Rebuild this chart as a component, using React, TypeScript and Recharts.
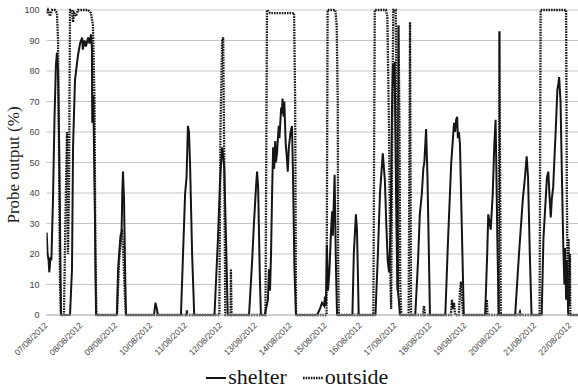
import React from 'react';
import { LineChart, Line, XAxis, YAxis, CartesianGrid, Legend } from 'recharts';

// Day ticks along the x axis (day 0 = 07/08/2012 00:00)
const dateLabels = [
  '07/08/2012', '08/08/2012', '09/08/2012', '10/08/2012', '11/08/2012', '12/08/2012',
  '13/08/2012', '14/08/2012', '15/08/2012', '16/08/2012', '17/08/2012', '18/08/2012',
  '19/08/2012', '20/08/2012', '21/08/2012', '22/08/2012',
];
const dayTicks = dateLabels.map((_, i) => i);
const pctTicks = [0, 10, 20, 30, 40, 50, 60, 70, 80, 90, 100];

// Probe inside the shelter: time (days) and output (%)
const shelterDays = [
  0.006, 0.03, 0.06, 0.08, 0.115, 0.14, 0.186, 0.23, 0.27, 0.3, 0.33, 0.36, 0.387, 0.415,
  0.673, 0.73, 0.76, 0.816, 0.9, 0.96, 1.02, 1.04, 1.09, 1.13, 1.19, 1.23, 1.274, 1.3, 1.31, 1.34, 1.39, 1.418,
  2.015, 2.05, 2.08, 2.12, 2.15, 2.17, 2.19, 2.22, 2.25, 2.276,
  3.078, 3.12, 3.16, 3.19,
  3.85, 3.91, 3.97, 4.01, 4.05, 4.08, 4.11, 4.17, 4.23,
  4.81, 4.91, 4.97, 5.0, 5.03, 5.06, 5.09, 5.13, 5.19,
  5.8, 5.89, 5.94, 6.0, 6.03, 6.06, 6.08, 6.11, 6.14,
  6.25, 6.34, 6.37, 6.4, 6.43, 6.46, 6.49, 6.52, 6.55, 6.57, 6.6, 6.65, 6.67, 6.72, 6.74, 6.76, 6.79, 6.81,
  6.85, 6.88, 6.91, 6.94, 6.99, 7.03, 7.06, 7.1, 7.145,
  7.75, 7.83, 7.89, 7.95, 7.975, 8.0, 8.03, 8.06, 8.1, 8.15, 8.18, 8.2, 8.25, 8.27, 8.29, 8.32,
  8.76, 8.8, 8.86, 8.89, 8.92, 8.94,
  9.42, 9.49, 9.55, 9.63, 9.69, 9.73, 9.77, 9.81, 9.86, 9.89, 9.92, 9.95, 9.97, 9.99, 10.02, 10.05, 10.09, 10.12,
  10.56, 10.64, 10.69, 10.75, 10.79, 10.82, 10.87, 10.91, 10.95, 10.98,
  11.42, 11.5, 11.59, 11.64, 11.67, 11.7, 11.73, 11.76, 11.78, 11.81, 11.84, 11.9, 11.95,
  12.56, 12.62, 12.65, 12.69, 12.72, 12.78, 12.82, 12.86, 12.88, 12.91, 12.95,
  13.42, 13.53, 13.64, 13.7, 13.75, 13.79, 13.84, 13.89,
  14.18, 14.23, 14.28, 14.33, 14.37, 14.4, 14.44, 14.47, 14.51, 14.54, 14.58, 14.63, 14.66, 14.68,
  14.72, 14.76, 14.8, 14.83, 14.85, 14.88, 14.9, 14.94, 15.22,
];
const shelterPct = [
  27, 20, 18, 14, 19, 18, 38, 65, 82, 86, 80, 58, 30, 0,
  0, 15, 55, 77, 85, 89, 91, 87, 90, 88, 91, 89, 92, 88, 63, 72, 30, 0,
  0, 15, 20, 26, 27, 40, 47, 38, 15, 0,
  0, 4, 2, 0,
  0, 20, 40, 45, 62, 60, 50, 20, 0,
  0, 25, 44, 50, 55, 52, 48, 30, 0,
  0, 18, 30, 42, 47, 42, 30, 12, 0,
  0, 5, 15, 8, 20, 40, 55, 48, 57, 50, 53, 62, 58, 68, 66, 71, 65, 70,
  56, 52, 47, 55, 60, 62, 45, 15, 0,
  0, 2, 4, 3, 6, 3, 23, 8, 14, 28, 34, 26, 46, 30, 15, 0,
  0, 20, 33, 28, 12, 0,
  0, 20, 40, 53, 44, 30, 18, 14, 30, 65, 82, 75, 83, 60, 30, 9, 5, 0,
  0, 18, 33, 40, 48, 50, 61, 45, 20, 0,
  0, 25, 50, 58, 63, 60, 64, 65, 58, 60, 56, 25, 0,
  0, 20, 33, 30, 28, 40, 55, 64, 50, 25, 0,
  0, 20, 38, 45, 52, 45, 20, 0,
  0, 25, 35, 45, 47, 40, 32, 38, 42, 50, 60, 74, 76, 78,
  70, 45, 22, 10, 22, 5, 18, 0, 0,
];

// Probe outside: time (days) and output (%)
const outsideDays = [
  0, 0.04, 0.1, 0.16, 0.24, 0.3, 0.33, 0.36, 0.387, 0.415, 0.5, 0.54, 0.587, 0.616, 0.644, 0.673,
  0.73, 0.76, 0.79, 0.845, 0.9, 1.19, 1.274, 1.33, 1.375, 1.4, 1.43,
  2.02, 2.08, 2.13, 2.16, 2.2, 2.25, 2.276,
  4.01, 4.02, 4.03,
  4.95, 4.98, 5.03, 5.06, 5.09, 5.12, 5.27, 5.28, 5.3,
  6.27, 6.314, 6.4, 7.09, 7.12, 7.145,
  8.02, 8.05, 8.27, 8.31, 8.34, 8.35, 8.37,
  9.36, 9.4, 9.72, 9.76, 9.81, 9.85, 9.87, 9.9, 9.93, 10.0, 10.03, 10.06, 10.08, 10.11, 10.13, 10.16,
  10.37, 10.41, 10.44,
  10.78, 10.81, 10.84,
  11.58, 11.61, 11.64, 11.67, 11.7, 11.81, 11.84, 11.87, 11.9, 11.93,
  12.59, 12.61, 12.63, 12.95, 12.97, 13.01,
  13.53, 13.56, 13.59,
  14.12, 14.15, 14.88, 14.9, 14.93, 14.95, 14.97, 14.99, 15.0, 15.22,
];
const outsidePct = [
  99, 100, 98, 100, 100, 99, 90, 50, 10, 0, 0, 30, 60, 20, 40, 100,
  100, 96, 99, 98, 100, 100, 99, 95, 70, 20, 0,
  0, 18, 25, 28, 20, 5, 0,
  0, 1.5, 0,
  0, 60, 90, 91, 50, 0, 0, 15, 0,
  0, 100, 99, 99, 70, 0,
  0, 100, 100, 95, 70, 20, 0,
  0, 100, 100, 98, 60, 10, 2, 60, 100, 100, 60, 8, 95, 60, 10, 0,
  0, 96, 0,
  0, 3, 0,
  0, 5, 2, 4, 0, 0, 8, 11, 5, 0,
  0, 5, 0, 0, 93, 0,
  0, 1, 0,
  0, 100, 100, 40, 5, 25, 3, 20, 0, 0,
];

const toSeries = (days: number[], pct: number[]) => days.map((t, i) => ({ t, v: pct[i] }));
const shelterData = toSeries(shelterDays, shelterPct);
const outsideData = toSeries(outsideDays, outsidePct);

const seriesStyles = [
  { name: 'shelter', color: '#151515', width: 2, dash: undefined as string | undefined },
  { name: 'outside', color: '#161616', width: 2.3, dash: '1.6 1' },
];

const sansFont = '"Liberation Sans", Arial, sans-serif';
const serifFont = '"Liberation Serif", "Times New Roman", serif';

function DateTick(props: any) {
  const { x, y, payload } = props;
  const ax = x + 1.5;
  const ay = y + 11;
  return (
    <text
      x={ax}
      y={ay}
      transform={`rotate(-45 ${ax} ${ay})`}
      textAnchor="end"
      fontSize={8.5}
      fontFamily={sansFont}
      fill="#444"
    >
      {dateLabels[payload.value]}
    </text>
  );
}

function ProbeTitle(props: any) {
  const vb = props.viewBox || { x: 0, y: 10, width: 46, height: 305 };
  const cx = vb.x + 18.5;
  const cy = vb.y + vb.height / 2 + 2.5;
  return (
    <text
      x={cx}
      y={cy}
      transform={`rotate(-90 ${cx} ${cy})`}
      textAnchor="middle"
      fontSize={17}
      fontFamily={serifFont}
      fill="#222"
    >
      Probe output (%)
    </text>
  );
}

function SeriesKey() {
  return (
    <div
      style={{
        height: 30,
        display: 'flex',
        justifyContent: 'center',
        alignItems: 'center',
        paddingLeft: 16,
        paddingTop: 5,
        boxSizing: 'border-box',
        fontFamily: serifFont,
        fontSize: 22,
        color: '#151515',
        lineHeight: '22px',
      }}
    >
      {seriesStyles.map((s, i) => (
        <span
          key={s.name}
          style={{ display: 'inline-flex', alignItems: 'center', marginLeft: i === 0 ? 0 : 16 }}
        >
          <svg width={20} height={8} style={{ display: 'block', marginTop: 2 }}>
            <line x1={0} y1={4} x2={20} y2={4} stroke={s.color} strokeWidth={s.width} strokeDasharray={s.dash} />
          </svg>
          <span style={{ marginLeft: 2 }}>{s.name}</span>
        </span>
      ))}
    </div>
  );
}

export default function App() {
  return (
    <div style={{ position: 'absolute', left: 0, top: 0, width: 578, height: 389, background: '#fff' }}>
      <LineChart width={578} height={389} margin={{ top: 10, right: 0, bottom: 0, left: 0.5 }}>
        <CartesianGrid vertical={false} stroke="#c6c6c6" strokeWidth={1} />
        <XAxis
          type="number"
          dataKey="t"
          domain={[0, 15.22]}
          ticks={dayTicks}
          interval={0}
          allowDataOverflow
          tick={<DateTick />}
          tickLine={false}
          tickSize={0}
          tickMargin={0}
          axisLine={{ stroke: '#bdbdbd' }}
          height={44}
        />
        <YAxis
          type="number"
          domain={[0, 100]}
          ticks={pctTicks}
          interval={0}
          width={46}
          tickSize={0}
          tickMargin={7}
          axisLine={false}
          tickLine={false}
          tick={{ fontSize: 9, fill: '#444', fontFamily: sansFont }}
          label={<ProbeTitle />}
        />
        <Legend verticalAlign="bottom" content={<SeriesKey />} />
        <Line
          data={outsideData}
          dataKey="v"
          name={seriesStyles[1].name}
          type="linear"
          stroke={seriesStyles[1].color}
          strokeWidth={seriesStyles[1].width}
          strokeDasharray={seriesStyles[1].dash}
          dot={false}
          activeDot={false}
          isAnimationActive={false}
        />
        <Line
          data={shelterData}
          dataKey="v"
          name={seriesStyles[0].name}
          type="linear"
          stroke={seriesStyles[0].color}
          strokeWidth={seriesStyles[0].width}
          dot={false}
          activeDot={false}
          isAnimationActive={false}
        />
      </LineChart>
    </div>
  );
}
